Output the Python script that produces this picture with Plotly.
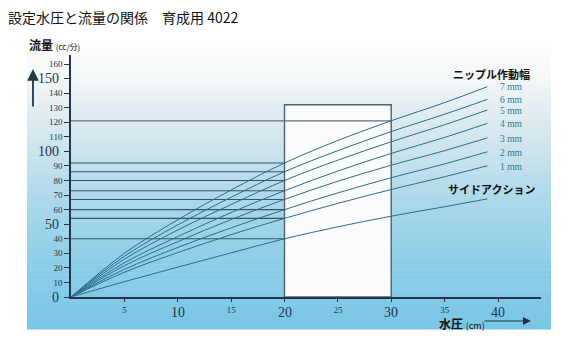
import plotly.graph_objects as go

# Water pressure (cm) at which the flow curves are sampled
pressure_cm = [0, 5, 10, 15, 20, 25, 30, 35, 39]

# Flow (cc/min) per nipple stroke
flow_7mm = [0, 30, 53, 73.5, 92, 107.5, 121, 133.5, 144.4]
flow_6mm = [0, 28, 49.5, 68.5, 86, 100.5, 113.6, 125.5, 135.7]
flow_5mm = [0, 26, 46, 63.5, 80, 94, 106.6, 118.3, 128.4]
flow_4mm = [0, 23.5, 41.5, 58, 73, 86.5, 98.6, 109.6, 119.2]
flow_3mm = [0, 21.5, 38, 53.2, 67, 79.5, 90.5, 100.5, 109.3]
flow_2mm = [0, 19, 34, 47.5, 60, 71.5, 81.9, 91.4, 99.7]
flow_1mm = [0, 17, 30.5, 42.8, 54, 64.3, 73.8, 82.6, 90.1]
flow_side = [0, 10.5, 20.5, 30.3, 40, 48.2, 55.5, 62, 67.4]

series_names = ["7 mm", "6 mm", "5 mm", "4 mm", "3 mm", "2 mm", "1 mm"]
series_values = [flow_7mm, flow_6mm, flow_5mm, flow_4mm, flow_3mm, flow_2mm, flow_1mm]

# Recommended pressure band (cm) and the box height
band_lo, band_hi, band_top = 20, 30, 132

y_ticks = list(range(0, 161, 10))
y_big = [0, 50, 100, 150]
x_ticks = list(range(5, 41, 5))
x_big = [10, 20, 30, 40]

W, H = 570, 344
L, R, T, B = 71, 29, 55, 47
PW, PH = W - L - R, H - T - B


def px(xp):
    return (xp - L) / PW


def py(yp):
    return (H - B - yp) / PH


SERIF = "Liberation Serif"
CJK = "Noto Sans CJK JP"
LINE = "#2c6d8a"
DARK = "#22364a"

fig = go.Figure()

# Horizontal read-off lines from the y axis to the band edges
i20 = pressure_cm.index(band_lo)
i30 = pressure_cm.index(band_hi)
for vals in series_values + [flow_side]:
    fig.add_trace(go.Scatter(x=[0, band_lo], y=[vals[i20], vals[i20]], mode="lines",
                             line=dict(color="#34546a", width=1.1), hoverinfo="skip"))
fig.add_trace(go.Scatter(x=[0, band_hi], y=[flow_7mm[i30], flow_7mm[i30]], mode="lines",
                         line=dict(color="#66717a", width=1.3), hoverinfo="skip"))

# Flow curves
for name, vals in zip(series_names, series_values):
    fig.add_trace(go.Scatter(x=pressure_cm, y=vals, mode="lines", name=name,
                             line=dict(color=LINE, width=1, shape="spline", smoothing=1.0)))
fig.add_trace(go.Scatter(x=pressure_cm, y=flow_side, mode="lines", name="サイドアクション",
                         line=dict(color=LINE, width=1, shape="spline", smoothing=1.0)))

shapes = []
# Vertical colour wash behind the whole chart panel
stops = [(40, (252, 253, 253)), (75, (246, 249, 249)), (100, (232, 240, 243)),
         (140, (210, 230, 238)), (200, (172, 216, 233)), (260, (142, 206, 231)),
         (329, (120, 198, 230))]
top_px, bot_px = 40, 329
n = 58
for k in range(n):
    y0 = top_px + (bot_px - top_px) * k / n
    y1 = top_px + (bot_px - top_px) * (k + 1) / n
    ym = (y0 + y1) / 2
    for (a, ca), (b, cb) in zip(stops[:-1], stops[1:]):
        if a <= ym <= b:
            t = (ym - a) / (b - a)
            c = tuple(round(ca[j] + (cb[j] - ca[j]) * t) for j in range(3))
            break
    shapes.append(dict(type="rect", xref="paper", yref="paper", x0=px(27), x1=px(551),
                       y0=py(y1 + 0.6), y1=py(y0), fillcolor="rgb(%d,%d,%d)" % c,
                       line=dict(width=0), layer="below"))
# Recommended pressure band
shapes.append(dict(type="rect", xref="x", yref="y", x0=band_lo, x1=band_hi, y0=0, y1=band_top,
                   fillcolor="#f9fbfc", line=dict(color="#4d6272", width=1.4), layer="below"))

ann = []
ann.append(dict(text="設定水圧と流量の関係　育成用 4022", xref="paper", yref="paper",
                x=px(6), y=py(17), xanchor="left", yanchor="middle", showarrow=False,
                font=dict(family=CJK, size=14, color="#111")))
ann.append(dict(text="<b>流量</b> <span style='font-size:8px'>(cc/分)</span>", xref="paper",
                yref="paper", x=px(27), y=py(45), xanchor="left", yanchor="middle",
                showarrow=False, font=dict(family=CJK, size=12, color="#111")))
# Up arrow beside the y axis
ann.append(dict(text="", xref="paper", yref="paper", x=px(33), y=py(69), ax=0, ay=39,
                showarrow=True, arrowhead=2, arrowsize=1.3, arrowwidth=1.8, arrowcolor=DARK))
# Big y labels
for v in y_big:
    ann.append(dict(text=str(v), xref="paper", yref="y", x=px(61), y=v, xanchor="right",
                    yanchor="middle", showarrow=False, font=dict(family=SERIF, size=14, color=DARK)))
for v in x_big:
    ann.append(dict(text=str(v), xref="x", yref="paper", x=v, y=py(303), xanchor="center",
                    yanchor="top", showarrow=False, font=dict(family=SERIF, size=14, color=DARK)))
ann.append(dict(text="<b>ニップル作動幅</b>", xref="paper", yref="paper", x=px(491), y=py(74),
                xanchor="center", yanchor="middle", showarrow=False,
                font=dict(family=CJK, size=11, color="#111")))
for name, vals in zip(series_names, series_values):
    ann.append(dict(text=name, xref="paper", yref="y", x=px(511), y=vals[-1] - 0.5,
                    xanchor="center", yanchor="middle", showarrow=False,
                    font=dict(family=SERIF, size=9.5, color="#2a7a94")))
ann.append(dict(text="<b>サイドアクション</b>", xref="paper", yref="paper", x=px(491), y=py(189),
                xanchor="center", yanchor="middle", showarrow=False,
                font=dict(family=CJK, size=11, color="#111")))
ann.append(dict(text="<b>水圧</b> <span style='font-size:9px'>(cm)</span>", xref="paper",
                yref="paper", x=px(437), y=py(323), xanchor="left", yanchor="middle",
                showarrow=False, font=dict(family=CJK, size=12, color="#111")))
ann.append(dict(text="", xref="paper", yref="paper", x=px(531), y=py(321), ax=-48, ay=0,
                showarrow=True, arrowhead=2, arrowsize=1.6, arrowwidth=1, arrowcolor=DARK))

ytext = ["" if v in y_big else str(v) for v in y_ticks]
xtext = ["" if v in x_big else str(v) for v in x_ticks]

fig.update_layout(
    width=W, height=H, margin=dict(l=L, r=R, t=T, b=B),
    paper_bgcolor="white", plot_bgcolor="rgba(0,0,0,0)", showlegend=False,
    shapes=shapes, annotations=ann,
    xaxis=dict(range=[0, (541 - L) / (498 - L) * 40], tickvals=x_ticks, ticktext=xtext,
               ticks="outside", ticklen=3, tickcolor=DARK, showline=True, linecolor=DARK,
               linewidth=1.5, showgrid=False, zeroline=False,
               tickfont=dict(family=SERIF, size=9, color=DARK)),
    yaxis=dict(range=[0, (297 - 55) / (297 - 64) * 160], tickvals=y_ticks, ticktext=ytext,
               ticks="outside", ticklen=5, tickcolor=DARK, showline=True, linecolor=DARK,
               linewidth=1.5, showgrid=False, zeroline=False,
               tickfont=dict(family=SERIF, size=9, color=DARK)),
)

fig.write_html("out.html")
